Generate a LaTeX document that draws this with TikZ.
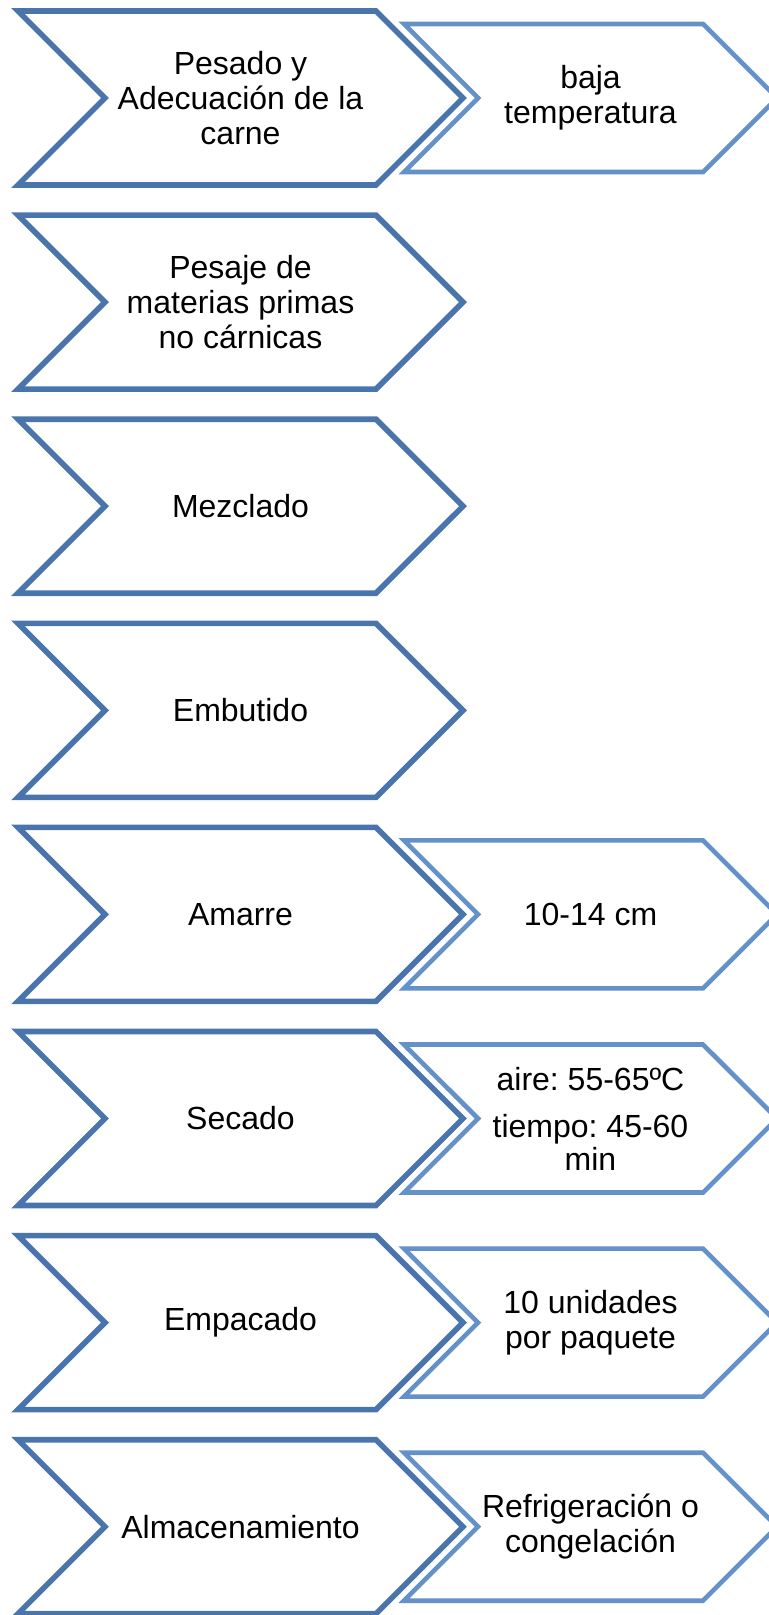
\documentclass[tikz,border=0pt]{standalone}
\usepackage{fontspec}
\setmainfont{Liberation Sans}
\usetikzlibrary{shapes.symbols}
\definecolor{stepblue}{RGB}{74,117,172}
\definecolor{noteblue}{RGB}{99,145,200}
\frenchspacing
\begin{document}
\begin{tikzpicture}[
		x=0.5pt, y=-0.5pt,
		every node/.style={shape=signal, signal from=west, signal to=east,
			signal pointer angle=90, inner sep=0pt, align=center,
			font=\fontsize{16pt}{17.5pt}\selectfont},
		stepbox/.style={draw=stepblue, line width=2.8pt,
			minimum width=222.5pt, minimum height=87pt},
		notebox/.style={draw=noteblue, line width=2.3pt,
			minimum width=186.5pt, minimum height=74pt}
	]
		\useasboundingbox (0,0) rectangle (769,1615);
		\node[stepbox] (pesado) at (240.5,98) {Pesado y\\Adecuación de la\\carne};
		\node[stepbox] (pesaje) at (240.5,302.1) {Pesaje de\\materias primas\\no cárnicas};
		\node[stepbox] (mezclado) at (240.5,506.2) {Mezclado};
		\node[stepbox] (embutido) at (240.5,710.3) {Embutido};
		\node[stepbox] (amarre) at (240.5,914.4) {Amarre};
		\node[stepbox] (secado) at (240.5,1118.5) {Secado};
		\node[stepbox] (empacado) at (240.5,1322.6) {Empacado};
		\node[stepbox] (almacen) at (240.5,1526.7) {Almacenamiento};
		\node[notebox] (baja) at (590.5,98) {baja\\temperatura};
		\node[notebox] (medida) at (590.5,914.4) {10-14 cm};
		\node[notebox] (aire) at (590.5,1118.5) {aire: 55-65ºC\\[6pt]tiempo: 45-60\\[-1pt]min};
		\node[notebox] (paquete) at (590.5,1322.6) {10 unidades\\por paquete};
		\node[notebox] (refrig) at (590.5,1526.7) {Refrigeración o\\congelación};
	\end{tikzpicture}
\end{document}
